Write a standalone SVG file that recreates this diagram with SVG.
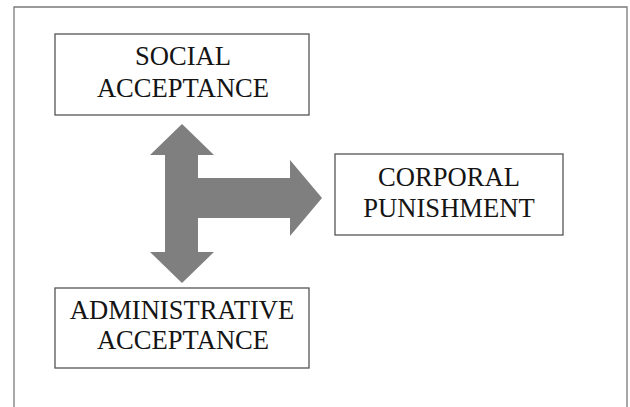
<svg xmlns="http://www.w3.org/2000/svg" width="630" height="407" viewBox="0 0 630 407">
  <style>
    .box { fill: #ffffff; stroke: #555555; stroke-width: 1.3; }
    .label { font-family: "Liberation Serif", "Times New Roman", serif; font-size: 26.6px; fill: #141414; text-anchor: middle; }
    .frame { fill: none; stroke: #7a7a7a; stroke-width: 1.3; }
    .arrow { fill: #7f7f7f; stroke: none; }
  </style>
  <rect width="630" height="407" fill="#ffffff"/>
  <!-- outer frame: top, left and right edges only -->
  <path class="frame" d="M14,407 V7 H627 V407"/>

  <g id="connectors">
    <!-- combined up/down/right block arrow -->
    <path class="arrow" d="M182,124 L214,155 L198,155 L198,178 L290,178 L290,160 L322,198 L290,236 L290,218 L198,218 L198,252 L214,252 L182,283 L150,252 L165,252 L165,155 L150,155 Z"/>
  </g>

  <g id="social-acceptance">
    <rect class="box" x="55" y="34" width="254" height="81"/>
    <text class="label" x="183" y="65">SOCIAL</text>
    <text class="label" x="183" y="97">ACCEPTANCE</text>
  </g>

  <g id="corporal-punishment">
    <rect class="box" x="335" y="154" width="228" height="81"/>
    <text class="label" x="449" y="186">CORPORAL</text>
    <text class="label" x="449" y="217">PUNISHMENT</text>
  </g>

  <g id="administrative-acceptance">
    <rect class="box" x="55" y="288" width="254" height="80"/>
    <text class="label" x="182" y="319">ADMINISTRATIVE</text>
    <text class="label" x="183" y="349">ACCEPTANCE</text>
  </g>
</svg>
